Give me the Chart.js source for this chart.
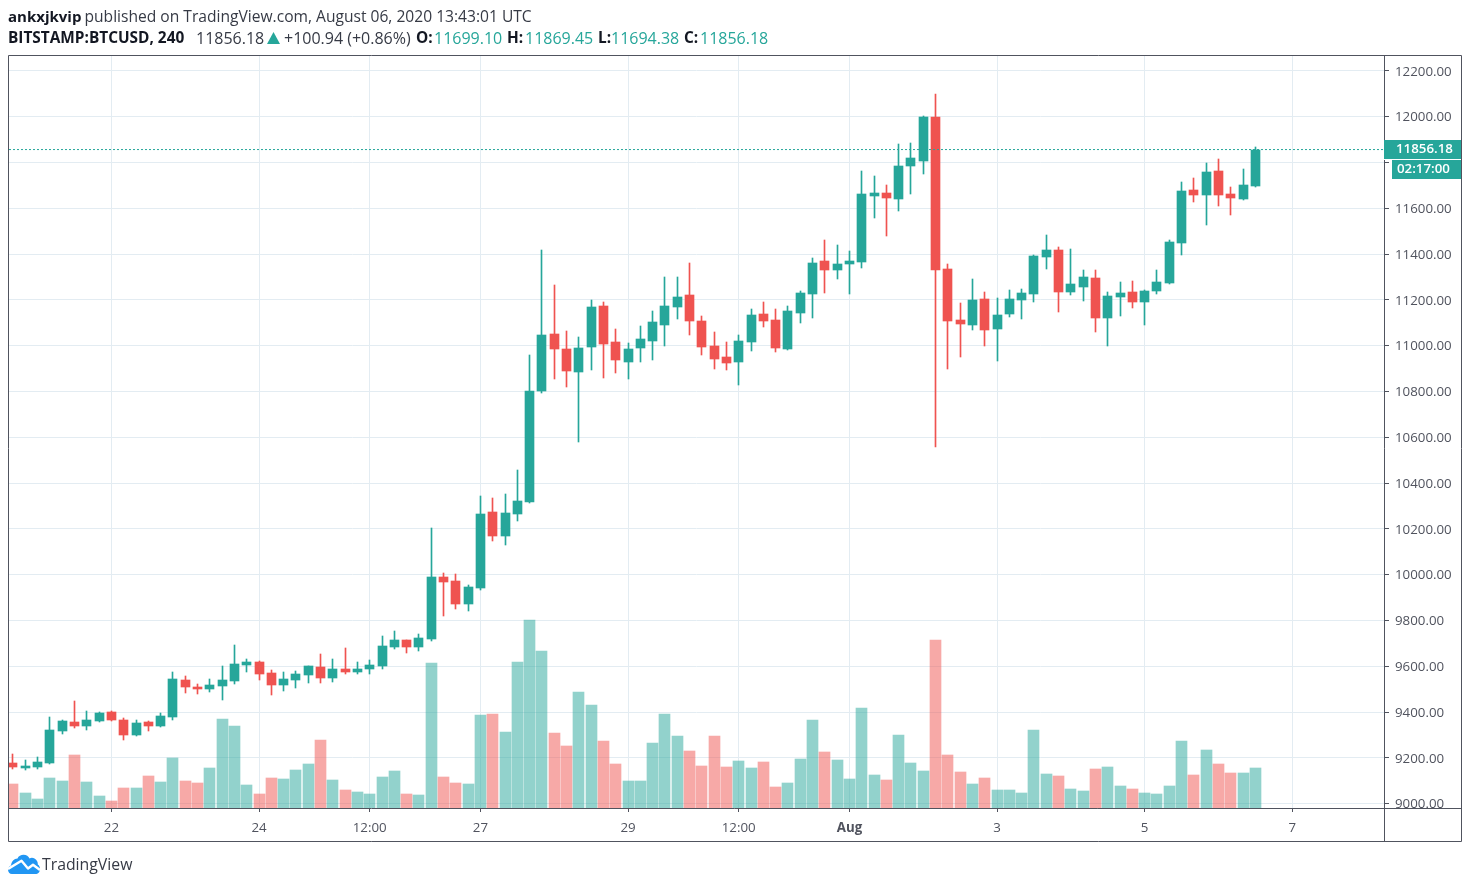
<!DOCTYPE html>
<html><head><meta charset="utf-8">
<script src="https://cdn.jsdelivr.net/npm/chart.js@4"></script>
<style>
html,body{margin:0;padding:0;background:#fff;width:1470px;height:888px;overflow:hidden}
#c{position:absolute;left:0;top:0}
.t{position:absolute;white-space:nowrap;font-family:"Open Sans",sans-serif;font-size:16px;line-height:20px;color:#363a45}
.b{font-weight:700;color:#131722;font-size:15.4px}
.v{color:#26a69a}
</style></head><body>
<canvas id="c" width="1470" height="888"></canvas>
<div class="t b" style="left:8px;top:5.5px;font-size:15px">ankxjkvip</div>
<div class="t" style="left:84.5px;top:5.5px;font-size:15.6px">published on TradingView.com, August 06, 2020 13:43:01 UTC</div>
<div class="t b" style="left:8px;top:27.5px">BITSTAMP:BTCUSD, 240</div>
<div class="t" style="left:196px;top:27.5px">11856.18</div>
<svg style="position:absolute;left:267px;top:32px" width="13" height="12" viewBox="0 0 13 12"><path fill="#26a69a" d="M6.5 0L13 12H0Z"/></svg>
<div class="t" style="left:284px;top:27.5px">+100.94 (+0.86%)</div>
<div class="t b" style="left:416px;top:27.5px">O:</div><div class="t v" style="left:434px;top:27.5px">11699.10</div>
<div class="t b" style="left:507px;top:27.5px">H:</div><div class="t v" style="left:525px;top:27.5px">11869.45</div>
<div class="t b" style="left:598px;top:27.5px">L:</div><div class="t v" style="left:611px;top:27.5px">11694.38</div>
<div class="t b" style="left:684px;top:27.5px">C:</div><div class="t v" style="left:700px;top:27.5px">11856.18</div>
<svg style="position:absolute;left:8px;top:854px" width="33" height="21" viewBox="0 0 33 21">
<path fill="#2196f3" d="M4 20C1.5 20 0 18 0 15.5C0 13.5 1.5 12 3 11.5C3.5 7.5 6 4.5 9.5 4.5C10.5 2 13 .8 15.5 .8C18.5 .8 20.5 2.2 21.5 4.5C23 3.6 25 3.6 26.5 4.6C29 6 30 8.5 29.8 10.5C31.3 11.5 32 13 32 15C32 18 30 20 27.5 20Z"/>
<polyline fill="none" stroke="#fff" stroke-width="2.4" stroke-linejoin="round" points="0,15 13.5,6.7 20,14.5 25,10.7 32,16"/>
</svg>
<div class="t" style="left:42px;top:854px;font-size:15.8px;color:#363a45">TradingView</div>
<script>
const opens=[9176.4,9154.6,9158.9,9176.4,9316.2,9355.4,9338,9359.8,9399.2,9364.2,9298.7,9355.4,9338,9377.3,9538.9,9508.3,9499.6,9512.7,9534.5,9604.4,9617.5,9569.4,9517,9538.9,9560.7,9595.6,9547.6,9586.9,9573.8,9586.9,9600,9683,9713.5,9683,9717.9,9988.7,9971.2,9870.8,9940.7,10272.5,10167.7,10263.8,10316.2,10800.9,11049.8,10984.3,10883.9,10993.1,11172.1,11014.9,10927.5,10988.7,11019.3,11089.1,11167.7,11220.1,11106.6,10997.4,10949.4,10927.5,11014.9,11137.2,11111,10984.3,11141.5,11224.5,11368.6,11329.3,11355.5,11364.2,11652.5,11665.6,11639.4,11783.5,11805.3,11997.4,11333.7,11111,11089.1,11202.7,11071.7,11137.2,11198.3,11224.4,11386,11416.6,11233.2,11255,11294.3,11119.6,11211.3,11233.2,11189.5,11237.5,11272.5,11447.1,11678.6,11656.8,11761.6,11661.1,11639.3,11699.10];
const highs=[9215.7,9189.5,9202.6,9377.3,9364.2,9447.2,9403.5,9399.2,9403.5,9372.9,9364.2,9359.8,9394.8,9573.8,9556.3,9521.4,9543.2,9600,9691.7,9630.6,9621.8,9582.5,9573.8,9578.2,9600,9652.4,9630.6,9678.6,9617.5,9626.2,9731,9752.8,9713.5,9739.7,10202.7,10006.2,10001.8,9953.8,10342.4,10333.7,10351.1,10455.9,10958.1,11416.6,11263.8,11062.9,11036.7,11198.3,11189.6,11071.7,11010.5,11084.8,11150.3,11298.7,11298.7,11359.9,11128.4,11058.6,11014.9,11045.5,11159,11189.6,11159,11172.1,11237.6,11381.7,11460.3,11438.5,11412.3,11761.6,11739.8,11700.5,11879.5,11883.9,12001.8,12097.9,11355.5,11185.2,11290,11233.2,11207,11242,11246.3,11394.7,11482.1,11429.7,11420.9,11329.2,11329.2,11233.2,11276.8,11281.2,11241.9,11329.2,11460.2,11713.5,11731,11796.5,11814,11691.7,11770.3,11869.45];
const lows=[9150.2,9145.8,9150.2,9172,9303,9329.2,9320.5,9358,9361,9276.8,9297,9316.2,9333.6,9364.2,9482.1,9477.7,9486.5,9451.5,9521.4,9573.8,9538.9,9473.4,9490.8,9503.9,9525.8,9525.8,9530.1,9565.1,9565.1,9565.1,9586.9,9674.2,9656.8,9665.5,9712,9818.4,9849,9840.2,9931.9,10145.9,10128.4,10233.3,10311.8,10792.2,10853.3,10818.4,10578.2,10892.6,10857.7,10879.5,10853.3,10927.5,10936.3,10997.4,11115.3,11045.5,10958.1,10897,10892.6,10827.1,10975.6,11080.4,10971.2,10982,11097.9,11119.7,11228.9,11290,11224.5,11338,11556.4,11477.8,11587,11661.2,11748.5,10556.4,10897,10949.4,11067.3,10997.4,10932,11124.1,11115.3,11189.5,11333.6,11145.8,11220.1,11193.9,11058.5,10997.4,11128.4,11163.3,11089.1,11224.4,11271,11394.7,11626.2,11525.7,11608.7,11569.4,11634.9,11694.38];
const closes=[9158.9,9163.3,9180.8,9320.5,9359.8,9338,9364.2,9394.8,9364.2,9298.7,9351.1,9338,9381.7,9543.2,9508.3,9499.6,9517,9538.9,9608.7,9617.5,9565.1,9517,9543.2,9565.1,9600,9547.6,9586.9,9573.8,9586.9,9604.4,9687.3,9713.5,9683,9722.3,9988.7,9966.9,9870.8,9945,10263.8,10167.7,10268.2,10320.6,10800.9,11045.5,10984.3,10888.3,10988.7,11167.7,11006.2,10936.3,10984.3,11028,11102.2,11172.1,11211.4,11106.6,10993.1,10940.7,10923.2,11019.3,11132.8,11106.6,10988.7,11150.3,11228.9,11359.9,11329.3,11355.5,11368.6,11661.2,11665.6,11643.7,11783.5,11818.4,11997.4,11329.3,11106.6,11093.5,11198.3,11067.3,11132.8,11202.7,11228.9,11390.4,11416.6,11233.2,11268.1,11298.7,11119.6,11215.7,11228.8,11189.5,11237.5,11276.8,11451.5,11674.2,11656.8,11757.2,11656.8,11643.7,11700.4,11856.18];
const volumes=[240,150,90,300,270,530,260,120,70,200,200,320,260,500,270,250,400,890,820,230,140,300,290,380,440,680,280,180,160,140,310,370,140,130,1450,310,250,240,930,940,760,1460,1880,1570,750,620,1160,1030,670,440,270,270,650,940,720,570,420,720,410,470,400,460,210,250,490,880,560,480,290,1000,330,280,730,450,370,1680,530,360,240,300,180,180,150,780,340,320,190,170,390,410,220,190,150,140,220,670,330,580,440,350,350,400];
const xTickIndex=[8,20,29,38,50,59,68,80,92,104];
const xTickLabels=["22","24","12:00","27","29","12:00","Aug","3","5","7"];
const boldTick="Aug";
const priceTicks=[9000,9200,9400,9600,9800,10000,10200,10400,10600,10800,11000,11200,11400,11600,11800,12000,12200];
const lastPrice=11856.18;
const countdown="02:17:00";

const UP="#26a69a",DOWN="#ef5350",UPV="rgba(38,166,154,0.5)",DOWNV="rgba(239,83,80,0.5)";
const AXIS="#50535e",GRID="#e3ecf2";
const XMIN=-0.325,XMAX=111.46;
const isDown=i=>closes[i]<opens[i];
const idx=closes.map((_,i)=>i);
const snap={id:"snap",afterDatasetsUpdate(ch){
  ch.data.datasets.forEach((d,n)=>{ if(d.type!=="bar")return;
   ch.getDatasetMeta(n).data.forEach(el=>{el.x=Math.floor(el.x)+.5;el.y=Math.round(el.y);el.base=Math.round(el.base);});});
}};
const frame={id:"frame",
 afterDraw(ch){
  const a=ch.chartArea,c=ch.ctx,y=ch.scales.y,R=a.right+77,B=a.bottom+33;
  c.save();c.strokeStyle=AXIS;c.lineWidth=1;
  const L=Math.floor(a.left)-.5,T=Math.floor(a.top)-.5;
  c.beginPath();c.rect(L,T,R-L+.5,B-T+.5);
  c.moveTo(a.right+.5,T);c.lineTo(a.right+.5,B);
  c.moveTo(L,a.bottom+.5);c.lineTo(R,a.bottom+.5);
  c.stroke();
  const py=Math.floor(y.getPixelForValue(lastPrice));
  c.fillStyle=UP;c.fillRect(a.right,py-9,77,19);
  c.fillRect(a.right+8,py+11,69,19);
  c.fillStyle="#fff";c.fillRect(a.right,py+10,77,1);
  c.font="600 13.3px 'Open Sans'";c.textAlign="left";c.textBaseline="middle";
  c.fillText(lastPrice.toFixed(2),a.right+12,py);
  c.fillText(countdown,a.right+13,py+20);
  c.restore();
 }};
new Chart(document.getElementById("c"),{
 data:{datasets:[
  {type:"line",order:0,yAxisID:"y",data:[{x:XMIN,y:lastPrice},{x:XMAX,y:lastPrice}],borderColor:UP,borderWidth:1,borderDash:[2,2],pointRadius:0},
  {type:"bar",order:1,yAxisID:"y",grouped:false,data:idx.map(i=>({x:i,y:[Math.min(opens[i],closes[i]),Math.max(opens[i],closes[i])]})),backgroundColor:idx.map(i=>isDown(i)?DOWN:UP),barThickness:9},
  {type:"bar",order:2,yAxisID:"y",grouped:false,data:idx.map(i=>({x:i,y:[lows[i],highs[i]]})),backgroundColor:idx.map(i=>isDown(i)?DOWN:UP),barThickness:1},
  {type:"bar",order:3,yAxisID:"yv",grouped:false,data:idx.map(i=>({x:i,y:volumes[i]})),backgroundColor:idx.map(i=>isDown(i)?DOWNV:UPV),barThickness:11}
 ]},
 options:{responsive:false,animation:false,devicePixelRatio:1,
  layout:{padding:{left:9,top:56,right:9,bottom:47}},
  plugins:{legend:{display:false},tooltip:{enabled:false},title:{display:false}},
  scales:{
   x:{type:"linear",position:"bottom",min:XMIN,max:XMAX,offset:false,
    afterFit(s){s.height=33},
    afterBuildTicks(s){s.ticks=xTickIndex.map(v=>({value:v}))},
    grid:{color:GRID,lineWidth:1,tickColor:AXIS,tickLength:4,drawTicks:true,offset:false},
    border:{display:false},
    ticks:{autoSkip:false,maxRotation:0,padding:8,color:AXIS,
     font:c=>({family:"'Open Sans'",size:13.3,weight:xTickLabels[xTickIndex.indexOf(c.tick&&c.tick.value)]===boldTick?"700":"400"}),
     callback:v=>xTickLabels[xTickIndex.indexOf(v)]}},
   y:{position:"right",min:8980.9,max:12264.7,
    afterFit(s){s.width=77},
    afterBuildTicks(s){s.ticks=priceTicks.map(v=>({value:v}))},
    grid:{color:GRID,lineWidth:1,tickColor:AXIS,tickLength:5},
    border:{display:false},
    ticks:{autoSkip:false,padding:6,labelOffset:1,color:AXIS,font:{family:"'Open Sans'",size:13.3},callback:v=>Number(v).toFixed(2)}},
   yv:{position:"right",display:false,min:0,max:7520}
  }
 },
 plugins:[snap,frame]
});
</script>
</body></html>
